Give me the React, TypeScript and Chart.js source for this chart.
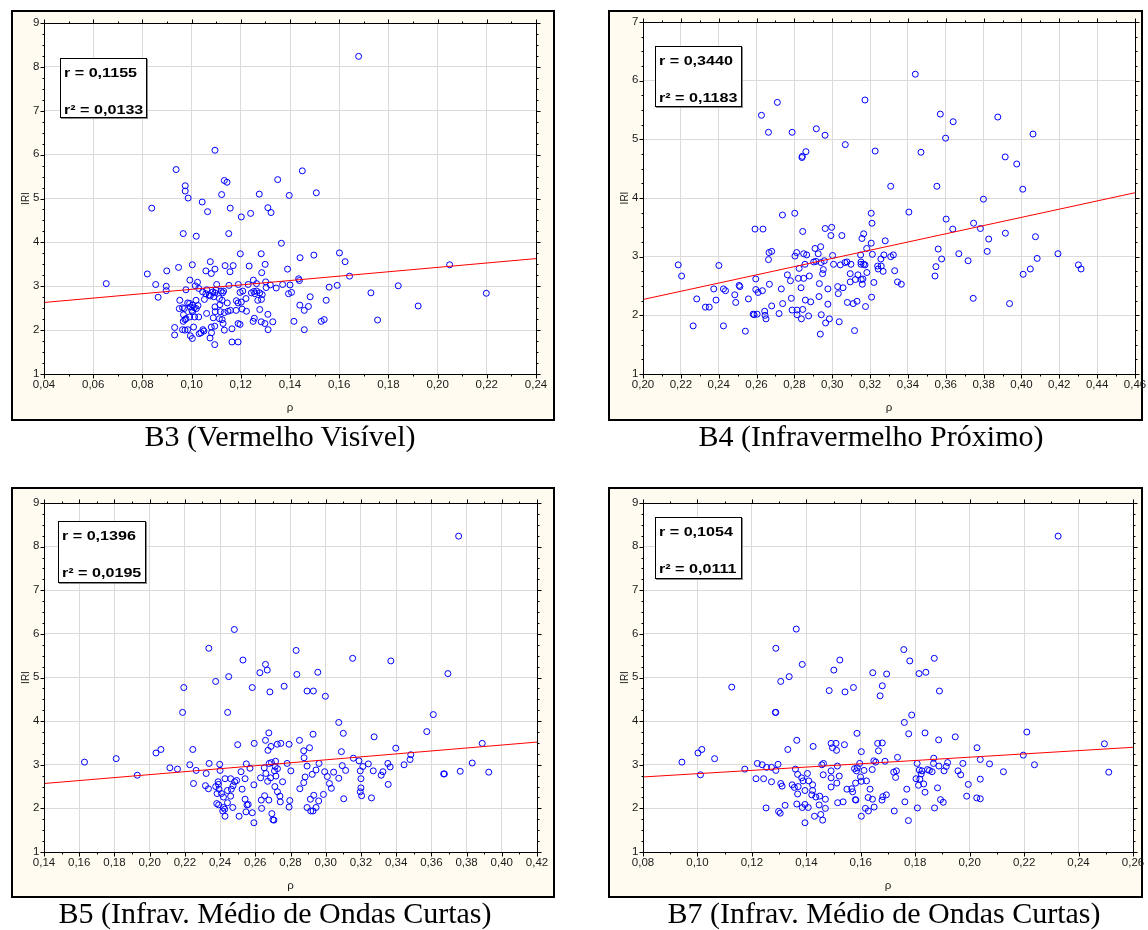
import React, { useEffect, useRef } from 'react';
import { Chart, registerables } from 'chart.js';

Chart.register(...registerables);

// ---------------- data (ρ, IRI) ----------------
const B3_POINTS: number[][] = [
  [0.1095,6.10],[0.0937,5.66],[0.0974,5.29],[0.0974,5.17],[0.0986,5.01],[0.1133,5.41],[0.1144,5.37],[0.1350,5.43],[0.1275,5.10],[0.1397,5.07],
  [0.1122,5.09],[0.1043,4.92],[0.1065,4.70],[0.1157,4.78],[0.0838,4.78],[0.1202,4.58],[0.1240,4.66],[0.1310,4.79],[0.1323,4.68],[0.0966,4.20],
  [0.1019,4.14],[0.1151,4.20],[0.1365,3.98],[0.1198,3.74],[0.1283,3.74],[0.0820,3.28],[0.0899,3.35],[0.0947,3.43],[0.1003,3.49],[0.1076,3.56],
  [0.1058,3.35],[0.1080,3.29],[0.1095,3.39],[0.1136,3.47],[0.1169,3.47],[0.1156,3.33],[0.1234,3.46],[0.1299,3.50],[0.1285,3.31],[0.1251,3.14],
  [0.1390,3.39],[0.1441,3.65],[0.0653,3.06],[0.0854,3.04],[0.0897,3.00],[0.0897,2.90],[0.0864,2.75],[0.0993,3.14],[0.1024,3.09],[0.1015,3.01],
  [0.0977,2.92],[0.1102,3.04],[0.1152,3.02],[0.1190,3.04],[0.1230,3.04],[0.1264,3.06],[0.1301,3.10],[0.1320,3.03],[0.1344,2.96],[0.1370,3.04],
  [0.1400,3.03],[0.1435,3.17],[0.1394,2.83],[0.1406,2.86],[0.1303,2.97],
  [0.1029,2.95],[0.1045,2.87],[0.1058,2.83],[0.1072,2.80],[0.1086,2.87],[0.1095,2.85],[0.1062,2.92],[0.1099,2.91],[0.1120,2.89],[0.1130,2.89],
  [0.1126,2.85],[0.1197,2.86],[0.1208,2.89],[0.1243,2.85],[0.1253,2.88],[0.1264,2.89],[0.1257,2.83],[0.1277,2.85],[0.1287,2.81],
  [0.1113,2.72],[0.1124,2.68],[0.1145,2.62],[0.1182,2.67],[0.1189,2.62],[0.1202,2.64],[0.1221,2.72],[0.1269,2.68],[0.1284,2.70],
  [0.0952,2.68],[0.0963,2.51],[0.0984,2.62],[0.0992,2.61],[0.0995,2.53],[0.1004,2.57],[0.1011,2.51],[0.1018,2.68],[0.1026,2.56],[0.1052,2.70],
  [0.1076,2.78],[0.1090,2.76],[0.0950,2.49],[0.0970,2.49],[0.1001,2.45],[0.1004,2.42],[0.1019,2.49],[0.1061,2.38],[0.1095,2.53],[0.1115,2.58],
  [0.1096,2.42],[0.1117,2.42],[0.1133,2.40],[0.1148,2.43],[0.1158,2.45],[0.1181,2.45],[0.1205,2.48],[0.1223,2.43],
  [0.0967,2.35],[0.0977,2.26],[0.0992,2.30],[0.1012,2.30],[0.1029,2.30],[0.1088,2.28],[0.1113,2.26],[0.1124,2.24],[0.1277,2.47],[0.1310,2.36],
  [0.0966,2.20],[0.0973,2.24],[0.1128,2.15],[0.1189,2.15],[0.1197,2.13],[0.1250,2.20],[0.1255,2.27],[0.1283,2.19],[0.1298,2.15],[0.1330,2.19],
  [0.1416,2.20],[0.0931,2.06],[0.0963,2.01],[0.0973,2.00],[0.0984,2.01],[0.1008,2.07],[0.1046,2.01],[0.1050,1.98],[0.1031,1.92],[0.1038,1.94],
  [0.1080,2.07],[0.1094,2.09],[0.1133,2.00],[0.1164,2.03],[0.1311,2.01],[0.0931,1.89],[0.0995,1.87],[0.1003,1.81],[0.1075,1.82],[0.1081,1.94],
  [0.1164,1.73],[0.1189,1.73],[0.1094,1.67],
  [0.1679,8.24],[0.1450,5.63],[0.1507,5.13],[0.1497,3.71],[0.1601,3.76],[0.1624,3.56],[0.1642,3.23],[0.1438,3.13],[0.1559,2.98],[0.1592,3.02],
  [0.1482,2.76],[0.1729,2.85],[0.1840,3.01],[0.2049,3.49],[0.2198,2.84],[0.1921,2.55],[0.1547,2.68],[0.1440,2.57],[0.1475,2.54],[0.1458,2.45],
  [0.1527,2.20],[0.1539,2.24],[0.1756,2.23],[0.1458,2.01],
];

const B4_POINTS: number[][] = [
  [0.2710,5.63],[0.2626,5.41],[0.2663,5.12],[0.2788,5.12],[0.2916,5.18],[0.2962,5.07],[0.3173,5.67],[0.3069,4.91],[0.3227,4.80],[0.2840,4.69],
  [0.2842,4.71],[0.2861,4.79],[0.2737,3.71],[0.2802,3.74],[0.2592,3.47],[0.2634,3.47],[0.2844,3.43],[0.2963,3.48],[0.2997,3.50],[0.2993,3.36],
  [0.3051,3.36],[0.3206,3.74],[0.3210,3.57],[0.3166,3.39],[0.3157,3.31],[0.3206,3.23],[0.3182,3.14],[0.3280,3.27],
  [0.2666,3.07],[0.2680,3.09],[0.2663,2.95],[0.2812,3.07],[0.2803,3.01],[0.2849,3.05],[0.2865,3.03],[0.2909,3.14],[0.2939,3.17],[0.2926,3.05],
  [0.3002,3.02],[0.2902,2.91],[0.2914,2.92],[0.2941,2.90],[0.2958,2.93],[0.2856,2.87],[0.3007,2.87],[0.3043,2.86],[0.3067,2.90],[0.3078,2.91],
  [0.3099,2.87],[0.3152,2.91],[0.3152,2.87],[0.3166,2.87],[0.3173,2.86],[0.3212,3.04],[0.3150,3.03],[0.3240,2.84],[0.3257,2.96],[0.3273,3.03],
  [0.3259,2.84],[0.3269,2.75],[0.3243,2.79],
  [0.2186,2.86],[0.2204,2.67],[0.2401,2.85],[0.2374,2.45],[0.2425,2.45],[0.2436,2.42],[0.2284,2.28],[0.2386,2.26],[0.2330,2.14],[0.2350,2.14],
  [0.2265,1.82],[0.2425,1.82],[0.2541,1.73],[0.2485,2.35],[0.2490,2.22],[0.2508,2.51],[0.2512,2.49],[0.2557,2.28],[0.2596,2.62],[0.2596,2.44],
  [0.2608,2.39],[0.2631,2.42],[0.2668,2.53],[0.2680,2.16],[0.2582,2.02],[0.2587,2.01],[0.2603,2.02],[0.2643,2.07],[0.2645,2.00],[0.2650,1.94],
  [0.2719,2.03],[0.2731,2.45],[0.2738,2.20],[0.2763,2.69],[0.2779,2.59],[0.2784,2.29],[0.2788,2.09],[0.2814,2.09],[0.2814,2.01],[0.2837,1.94],
  [0.2844,2.10],[0.2821,2.63],[0.2849,2.63],[0.2825,2.80],[0.2835,2.47],[0.2858,2.26],[0.2879,2.67],[0.2886,2.23],[0.2875,1.99],[0.2932,2.54],
  [0.2949,2.71],[0.2953,2.78],[0.2977,2.45],[0.2930,2.32],[0.2977,2.19],[0.2942,2.01],[0.2965,1.87],[0.2985,1.94],[0.2937,1.68],[0.3029,2.49],
  [0.3032,2.37],[0.3057,2.47],[0.3037,1.89],[0.3080,2.22],[0.3095,2.57],[0.3095,2.71],[0.3111,2.20],[0.3131,2.24],[0.3122,2.61],[0.3136,2.69],
  [0.3153,2.61],[0.3162,2.62],[0.3183,2.73],[0.3159,2.53],[0.3220,2.56],[0.3208,2.31],[0.3176,2.15],[0.3118,1.74],
  [0.3439,6.11],[0.3571,5.43],[0.3639,5.30],[0.3599,5.02],[0.3875,5.38],[0.4061,5.09],[0.3469,4.78],[0.3914,4.70],[0.3975,4.58],[0.3309,4.20],
  [0.3553,4.20],[0.4007,4.15],[0.3799,3.98],[0.3405,3.76],[0.3602,3.64],[0.3637,3.47],[0.3747,3.57],[0.3783,3.48],[0.3915,3.40],[0.4074,3.34],
  [0.3827,3.30],[0.3309,3.00],[0.3323,3.03],[0.3330,2.76],[0.3345,2.57],[0.3365,2.53],[0.3560,3.13],[0.3578,2.96],[0.3548,2.83],[0.3543,2.67],
  [0.3669,3.05],[0.3718,2.93],[0.3819,3.09],[0.3745,2.29],[0.3937,2.20],[0.4009,2.70],[0.4047,2.79],[0.4083,2.97],[0.4193,3.05],[0.4301,2.86],
  [0.4315,2.79],
];

const B5_POINTS: number[][] = [
  [0.2481,6.10],[0.2336,5.67],[0.2832,5.62],[0.2530,5.40],[0.2658,5.30],[0.2626,5.11],[0.2668,5.17],[0.2836,5.07],[0.2955,5.12],[0.2375,4.91],
  [0.2449,5.02],[0.2194,4.77],[0.2583,4.77],[0.2683,4.67],[0.2764,4.80],[0.2894,4.69],[0.2930,4.69],[0.2998,4.57],[0.2187,4.20],[0.2443,4.20],
  [0.3074,3.97],[0.3100,3.72],[0.2677,3.73],[0.2928,3.70],[0.2658,3.56],[0.2851,3.56],[0.2500,3.46],[0.2594,3.49],[0.2689,3.42],[0.2725,3.47],
  [0.2745,3.49],[0.2792,3.47],[0.2672,3.33],[0.2875,3.32],[0.2877,3.16],[0.2908,3.39],[0.3089,3.30],[0.2036,3.27],[0.2064,3.35],[0.2245,3.35],
  [0.2115,2.93],[0.2158,2.90],[0.2228,3.00],[0.2264,2.87],[0.2338,3.03],[0.2398,3.01],[0.2400,2.87],[0.2321,2.80],[0.2249,2.57],[0.2317,2.52],
  [0.2334,2.45],[0.2375,2.50],[0.2389,2.61],[0.2391,2.55],[0.2394,2.44],[0.2383,2.34],[0.2408,2.34],[0.2419,2.26],[0.2428,2.68],[0.2460,2.68],
  [0.2483,2.61],[0.2494,2.64],[0.2474,2.52],[0.2464,2.44],[0.2442,2.41],[0.2460,2.28],[0.2442,2.13],[0.2381,2.11],[0.2392,2.08],[0.2419,2.02],
  [0.2426,1.98],[0.2415,1.94],[0.2428,1.82],[0.2472,2.02],[0.2508,1.82],
  [0.2519,2.84],[0.2549,3.02],[0.2570,2.92],[0.2542,2.68],[0.2525,2.44],[0.2542,2.21],[0.2553,2.08],[0.2547,1.92],[0.2583,1.90],[0.2592,1.67],
  [0.2592,2.54],[0.2560,2.09],[0.2630,2.70],[0.2651,2.93],[0.2660,2.80],[0.2679,3.03],[0.2692,3.05],[0.2715,3.08],[0.2713,2.96],[0.2726,2.91],
  [0.2709,2.86],[0.2687,2.70],[0.2670,2.62],[0.2717,2.74],[0.2755,2.61],[0.2781,3.03],[0.2802,2.86],
  [0.2711,2.50],[0.2726,2.38],[0.2740,2.28],[0.2742,2.15],[0.2634,2.19],[0.2653,2.29],[0.2677,2.19],[0.2636,2.00],[0.2694,1.88],[0.2700,1.74],
  [0.2706,1.73],[0.2796,2.18],[0.2792,2.03],[0.2853,2.45],
  [0.2875,2.59],[0.2883,2.72],[0.2894,2.97],[0.2923,2.78],[0.2945,2.88],[0.2962,3.03],[0.2994,2.84],[0.3009,2.73],[0.3021,2.57],[0.3032,2.46],
  [0.3045,2.83],[0.3074,2.69],[0.3094,2.98],[0.3113,2.87],[0.3102,2.22],[0.2987,2.32],[0.2960,2.17],[0.2932,2.30],[0.2913,2.21],[0.2894,2.02],
  [0.2915,1.94],[0.2928,1.94],[0.2945,2.02],
  [0.1630,3.06],[0.1810,3.14],[0.1930,2.76],
  [0.3755,8.24],[0.3153,5.44],[0.3370,5.38],[0.3694,5.09],[0.3611,4.15],[0.3574,3.76],[0.3275,3.64],[0.3398,3.38],[0.3889,3.49],[0.3157,3.15],
  [0.3189,3.09],[0.3483,3.23],[0.3479,3.12],[0.3211,2.96],[0.3242,3.02],[0.3196,2.86],[0.3270,2.86],[0.3325,2.84],[0.3315,2.76],[0.3353,3.03],
  [0.3366,2.95],[0.3445,3.00],[0.3200,2.68],[0.3355,2.55],[0.3200,2.47],[0.3196,2.38],[0.3204,2.29],[0.3260,2.24],[0.3670,2.79],[0.3674,2.79],
  [0.3764,2.85],[0.3832,3.04],[0.3926,2.83],
];

const B7_POINTS: number[][] = [
  [0.1363,6.11],[0.1288,5.67],[0.1385,5.30],[0.1337,5.02],[0.1306,4.91],[0.1523,5.40],[0.1501,5.17],[0.1126,4.78],[0.1484,4.70],[0.1542,4.67],
  [0.1573,4.77],[0.1286,4.20],[0.1288,4.20],[0.1365,3.56],[0.1332,3.35],[0.1425,3.42],[0.1491,3.49],[0.1509,3.49],[0.1540,3.46],[0.1496,3.39],
  [0.1511,3.33],[0.1586,3.72],[0.1002,3.27],[0.1016,3.35],[0.1063,3.14],[0.0943,3.06],[0.1011,2.77],[0.1174,2.90],[0.1220,3.03],[0.1238,3.00],
  [0.1254,2.94],[0.1272,2.94],[0.1288,2.87],[0.1296,3.01],[0.1215,2.68],[0.1243,2.68],[0.1272,2.61],[0.1306,2.57],[0.1311,2.51],[0.1252,2.01],
  [0.1298,1.93],[0.1304,1.89],[0.1322,2.07],
  [0.1348,2.54],[0.1356,2.48],[0.1360,2.90],[0.1368,2.78],[0.1370,2.50],[0.1368,2.33],[0.1365,2.10],[0.1383,2.70],[0.1388,2.63],[0.1395,2.41],
  [0.1404,2.80],[0.1409,2.63],[0.1395,2.09],[0.1385,2.02],[0.1407,2.02],[0.1395,1.67],
  [0.1423,2.54],[0.1423,2.41],[0.1420,2.31],[0.1435,2.26],[0.1449,2.28],[0.1447,2.08],[0.1453,1.86],[0.1460,1.73],[0.1430,1.82],[0.1470,2.21],
  [0.1470,2.00],[0.1462,2.77],[0.1457,3.00],[0.1463,3.03],[0.1514,2.97],[0.1491,2.86],[0.1491,2.70],[0.1491,2.49],[0.1512,2.58],[0.1521,2.74],
  [0.1515,2.13],[0.1535,2.15],[0.1549,2.44],
  [0.1758,5.64],[0.1780,5.38],[0.1870,5.44],[0.1644,5.11],[0.1695,5.08],[0.1814,5.09],[0.1839,5.12],[0.1679,4.81],[0.1671,4.58],[0.1889,4.69],
  [0.1787,4.14],[0.1760,3.97],[0.1776,3.71],[0.1836,3.73],[0.1886,3.57],[0.1947,3.64],[0.1662,3.49],[0.1679,3.50],[0.1665,3.32],[0.1602,3.30],
  [0.1735,3.17],[0.1648,3.09],[0.1655,3.06],[0.1689,3.08],[0.1596,3.03],[0.1577,2.91],[0.1587,2.93],[0.1584,2.86],[0.1612,2.87],[0.1642,2.89],
  [0.1599,2.72],[0.1602,2.62],[0.1621,2.63],[0.1581,2.58],[0.1567,2.45],[0.1570,2.38],[0.1580,2.20],[0.1582,2.19],[0.1634,2.44],[0.1627,2.25],
  [0.1643,2.21],[0.1681,2.27],[0.1694,2.31],[0.1678,2.19],[0.1617,2.00],[0.1628,1.94],[0.1649,2.03],[0.1602,1.82],[0.1721,2.83],[0.1731,2.86],
  [0.1728,2.71],[0.1723,1.94],[0.1769,2.44],[0.1762,2.15],[0.1775,1.72],[0.1807,3.03],[0.1803,2.68],[0.1815,2.88],[0.1817,2.67],[0.1822,2.79],
  [0.1825,2.86],[0.1812,2.53],[0.1831,2.56],[0.1836,2.37],[0.1808,2.01],[0.1845,2.89],[0.1852,2.87],[0.1862,2.84],[0.1868,3.15],[0.1867,3.03],
  [0.1882,2.47],[0.1871,2.01],[0.1887,2.97],[0.1906,2.86],[0.1914,2.96],[0.1919,3.05],[0.1893,2.20],[0.1903,2.14],[0.1957,2.86],[0.1967,2.77],
  [0.1975,3.03],[0.1995,2.55],[0.1989,2.28],[0.2026,2.24],[0.2039,2.22],[0.2027,3.39],[0.2039,3.12],[0.2039,2.67],[0.2073,3.02],[0.2124,2.84],
  [0.2197,3.22],[0.2210,3.75],[0.2238,3.00],[0.2325,8.24],[0.2495,3.48],[0.2511,2.83],
];

// regression line: IRI at the left and right end of the ρ axis
const B3_FIT = [2.63, 3.63];
const B4_FIT = [2.27, 4.09];
const B5_FIT = [2.57, 3.52];
const B7_FIT = [2.72, 3.40];

// axis ranges [min, max, step]
const B3_X_AXIS = [0.04, 0.24, 0.02];
const B4_X_AXIS = [0.20, 0.46, 0.02];
const B5_X_AXIS = [0.14, 0.42, 0.02];
const B7_X_AXIS = [0.08, 0.26, 0.02];
const B3_Y_AXIS = [1, 9];
const B4_Y_AXIS = [1, 7];
const B5_Y_AXIS = [1, 9];
const B7_Y_AXIS = [1, 9];

const B3_STATS = ['r = 0,1155', 'r² = 0,0133'];
const B4_STATS = ['r = 0,3440', 'r² = 0,1183'];
const B5_STATS = ['r = 0,1396', 'r² = 0,0195'];
const B7_STATS = ['r = 0,1054', 'r² = 0,0111'];

const CAPTIONS = [
  'B3 (Vermelho Visível)',
  'B4 (Infravermelho Próximo)',
  'B5 (Infrav. Médio de Ondas Curtas)',
  'B7 (Infrav. Médio de Ondas Curtas)',
];
const X_TITLE = 'ρ';
const Y_TITLE = 'IRI';

// ---------------- layout ----------------
const SX = 1.15; // horizontal stretch of the chart lettering in the original figure
const CREAM = '#fffbf0';

type Box = { x: number; y: number; w: number; h: number };
type PanelCfg = {
  frame: Box;
  plot: { l: number; r: number; t: number; b: number };
  xAxis: number[];
  yAxis: number[];
  points: number[][];
  fit: number[];
};

const fmt = (v: number) => v.toFixed(2).replace('.', ',');

function ScatterPanel({ cfg }: { cfg: PanelCfg }) {
  const ref = useRef<HTMLCanvasElement>(null);
  const cw = cfg.frame.w + 8;
  const ch = cfg.frame.h;
  useEffect(() => {
    const ox = cfg.frame.x;
    const oy = cfg.frame.y;
    const L = cfg.plot.l - ox;
    const R = cfg.plot.r - ox;
    const T = cfg.plot.t - oy;
    const B = cfg.plot.b - oy;
    const [xMin, xMax, xStep] = cfg.xAxis;
    const [yMin, yMax] = cfg.yAxis;

    const deco = {
      id: 'deco',
      beforeDraw(chart: any) {
        const { ctx, chartArea: a } = chart;
        ctx.save();
        ctx.fillStyle = '#ffffff';
        ctx.fillRect(a.left, a.top, a.right - a.left, a.bottom - a.top);
        ctx.restore();
      },
      afterDraw(chart: any) {
        const { ctx, chartArea: a } = chart;
        const xs = chart.scales.x;
        const ys = chart.scales.y;
        const l = Math.round(a.left) + 0.5;
        const r = Math.round(a.right) + 0.5;
        const t = Math.round(a.top) + 0.5;
        const b = Math.round(a.bottom) + 0.5;
        ctx.save();
        ctx.strokeStyle = '#000';
        ctx.lineWidth = 1;
        ctx.strokeRect(l, t, r - l, b - t);
        const seg = (x1: number, y1: number, x2: number, y2: number) => {
          ctx.beginPath();
          ctx.moveTo(x1, y1);
          ctx.lineTo(x2, y2);
          ctx.stroke();
        };
        const nx = Math.round((xMax - xMin) / (xStep / 2));
        for (let i = 0; i <= nx; i++) {
          const v = xMin + (i * xStep) / 2;
          const px = Math.round(xs.getPixelForValue(v)) + 0.5;
          const len = i % 2 === 0 ? 4 : 2;
          seg(px, b, px, b + len);
          seg(px, t, px, t - len);
        }
        const ny = Math.round((yMax - yMin) / 0.25);
        for (let j = 0; j <= ny; j++) {
          const v = yMin + j * 0.25;
          const py = Math.round(ys.getPixelForValue(v)) + 0.5;
          const len = j % 4 === 0 ? 4 : 2;
          seg(l, py, l - len, py);
          seg(r, py, r + len, py);
        }
        ctx.fillStyle = '#1a1a1a';
        ctx.font = '10px "Liberation Sans", Arial, sans-serif';
        const nMaj = Math.round((xMax - xMin) / xStep);
        for (let i = 0; i <= nMaj; i++) {
          const v = xMin + i * xStep;
          const px = xs.getPixelForValue(v);
          ctx.save();
          ctx.translate(px, b + 6);
          ctx.scale(SX, 1);
          ctx.textAlign = 'center';
          ctx.textBaseline = 'top';
          ctx.fillText(fmt(v), 0, 0);
          ctx.restore();
        }
        for (let v = yMin; v <= yMax; v++) {
          const py = ys.getPixelForValue(v);
          ctx.save();
          ctx.translate(l - 5, py);
          ctx.scale(SX, 1);
          ctx.textAlign = 'right';
          ctx.textBaseline = 'middle';
          ctx.fillText(String(v), 0, 0);
          ctx.restore();
        }
        ctx.save();
        ctx.translate((a.left + a.right) / 2, b + 34);
        ctx.scale(SX, 1);
        ctx.textAlign = 'center';
        ctx.textBaseline = 'middle';
        ctx.fillText(X_TITLE, 0, 0);
        ctx.restore();
        ctx.save();
        ctx.translate(l - 19, (a.top + a.bottom) / 2);
        ctx.rotate(-Math.PI / 2);
        ctx.scale(1, SX);
        ctx.textAlign = 'center';
        ctx.textBaseline = 'middle';
        ctx.fillText(Y_TITLE, 0, 0);
        ctx.restore();
        ctx.restore();
      },
    };

    const chart = new Chart(ref.current as HTMLCanvasElement, {
      type: 'scatter',
      data: {
        datasets: [
          {
            data: [
              { x: xMin, y: cfg.fit[0] },
              { x: xMax, y: cfg.fit[1] },
            ],
            showLine: true,
            borderColor: '#ff0000',
            backgroundColor: '#ff0000',
            borderWidth: 1,
            pointRadius: 0,
          } as any,
          {
            data: cfg.points.map(([x, y]) => ({ x, y })),
            pointStyle: 'circle',
            pointRadius: 3,
            pointBorderWidth: 1,
            borderColor: '#0000ff',
            backgroundColor: 'rgba(0,0,0,0)',
            pointBorderColor: '#0000ff',
            pointBackgroundColor: 'rgba(0,0,0,0)',
          } as any,
        ],
      },
      options: {
        animation: false,
        responsive: false,
        maintainAspectRatio: false,
        events: [],
        layout: { padding: { left: 0, top: T, right: cw - R, bottom: 0 } },
        plugins: { legend: { display: false }, tooltip: { enabled: false }, title: { display: false } },
        scales: {
          x: {
            type: 'linear',
            min: xMin,
            max: xMax,
            ticks: { stepSize: xStep, display: false },
            grid: { color: '#dadada', lineWidth: 1, drawTicks: false },
            border: { display: false },
            afterFit: (s: any) => {
              s.height = ch - B;
              s.paddingLeft = 0;
              s.paddingRight = 0;
            },
          },
          y: {
            type: 'linear',
            min: yMin,
            max: yMax,
            ticks: { stepSize: 1, display: false },
            grid: { color: '#dadada', lineWidth: 1, drawTicks: false },
            border: { display: false },
            afterFit: (s: any) => {
              s.width = L;
              s.paddingTop = 0;
              s.paddingBottom = 0;
            },
          },
        },
      } as any,
      plugins: [deco],
    });
    return () => chart.destroy();
  }, []);

  return (
    <>
      <div
        style={{
          position: 'absolute',
          left: cfg.frame.x,
          top: cfg.frame.y,
          width: cfg.frame.w,
          height: cfg.frame.h,
          boxSizing: 'border-box',
          border: '2px solid #000',
          background: CREAM,
        }}
      />
      <canvas
        ref={ref}
        width={cw}
        height={ch}
        style={{ position: 'absolute', left: cfg.frame.x, top: cfg.frame.y, display: 'block' }}
      />
    </>
  );
}

function StatsBox({ box, lines }: { box: Box; lines: string[] }) {
  const lineStyle = (top: number): React.CSSProperties => ({
    position: 'absolute',
    left: 3,
    top,
    fontFamily: '"Liberation Sans", Arial, sans-serif',
    fontWeight: 'bold',
    fontSize: 13,
    lineHeight: '13px',
    color: '#000',
    whiteSpace: 'nowrap',
    transform: 'scaleX(1.24)',
    transformOrigin: 'left center',
  });
  return (
    <div
      style={{
        position: 'absolute',
        left: box.x,
        top: box.y,
        width: box.w,
        height: box.h,
        boxSizing: 'border-box',
        border: '1px solid #000',
        boxShadow: '1px 1px 0 #8a8a8a',
        background: '#fff',
      }}
    >
      <div style={lineStyle(7)}>{lines[0]}</div>
      <div style={lineStyle(44)}>{lines[1]}</div>
    </div>
  );
}

function Caption({ text, cx, top }: { text: string; cx: number; top: number }) {
  return (
    <div
      style={{
        position: 'absolute',
        left: cx,
        top,
        transform: 'translateX(-50%)',
        fontFamily: '"Liberation Serif", "Times New Roman", serif',
        fontSize: 30,
        lineHeight: '30px',
        color: '#000',
        whiteSpace: 'nowrap',
      }}
    >
      {text}
    </div>
  );
}

const PANELS: PanelCfg[] = [
  { frame: { x: 11, y: 10, w: 544, h: 411 }, plot: { l: 44, r: 536, t: 23, b: 374 }, xAxis: B3_X_AXIS, yAxis: B3_Y_AXIS, points: B3_POINTS, fit: B3_FIT },
  { frame: { x: 608, y: 10, w: 535, h: 411 }, plot: { l: 643, r: 1135, t: 22, b: 374 }, xAxis: B4_X_AXIS, yAxis: B4_Y_AXIS, points: B4_POINTS, fit: B4_FIT },
  { frame: { x: 11, y: 487, w: 544, h: 411 }, plot: { l: 44, r: 537, t: 503, b: 852 }, xAxis: B5_X_AXIS, yAxis: B5_Y_AXIS, points: B5_POINTS, fit: B5_FIT },
  { frame: { x: 608, y: 487, w: 535, h: 411 }, plot: { l: 643, r: 1133, t: 503, b: 852 }, xAxis: B7_X_AXIS, yAxis: B7_Y_AXIS, points: B7_POINTS, fit: B7_FIT },
];

const STATS_BOXES: { box: Box; lines: string[] }[] = [
  { box: { x: 60, y: 58, w: 87, h: 60 }, lines: B3_STATS },
  { box: { x: 655, y: 46, w: 87, h: 61 }, lines: B4_STATS },
  { box: { x: 58, y: 521, w: 88, h: 62 }, lines: B5_STATS },
  { box: { x: 655, y: 517, w: 87, h: 62 }, lines: B7_STATS },
];

const CAPTION_POS = [
  { cx: 280, top: 421 },
  { cx: 871, top: 421 },
  { cx: 275, top: 898 },
  { cx: 884, top: 898 },
];

export default function App() {
  return (
    <div style={{ position: 'absolute', left: 0, top: 0, width: 1148, height: 930, background: '#fff', overflow: 'hidden' }}>
      {PANELS.map((p, i) => (
        <ScatterPanel key={i} cfg={p} />
      ))}
      {STATS_BOXES.map((s, i) => (
        <StatsBox key={i} box={s.box} lines={s.lines} />
      ))}
      {CAPTIONS.map((c, i) => (
        <Caption key={i} text={c} cx={CAPTION_POS[i].cx} top={CAPTION_POS[i].top} />
      ))}
    </div>
  );
}
